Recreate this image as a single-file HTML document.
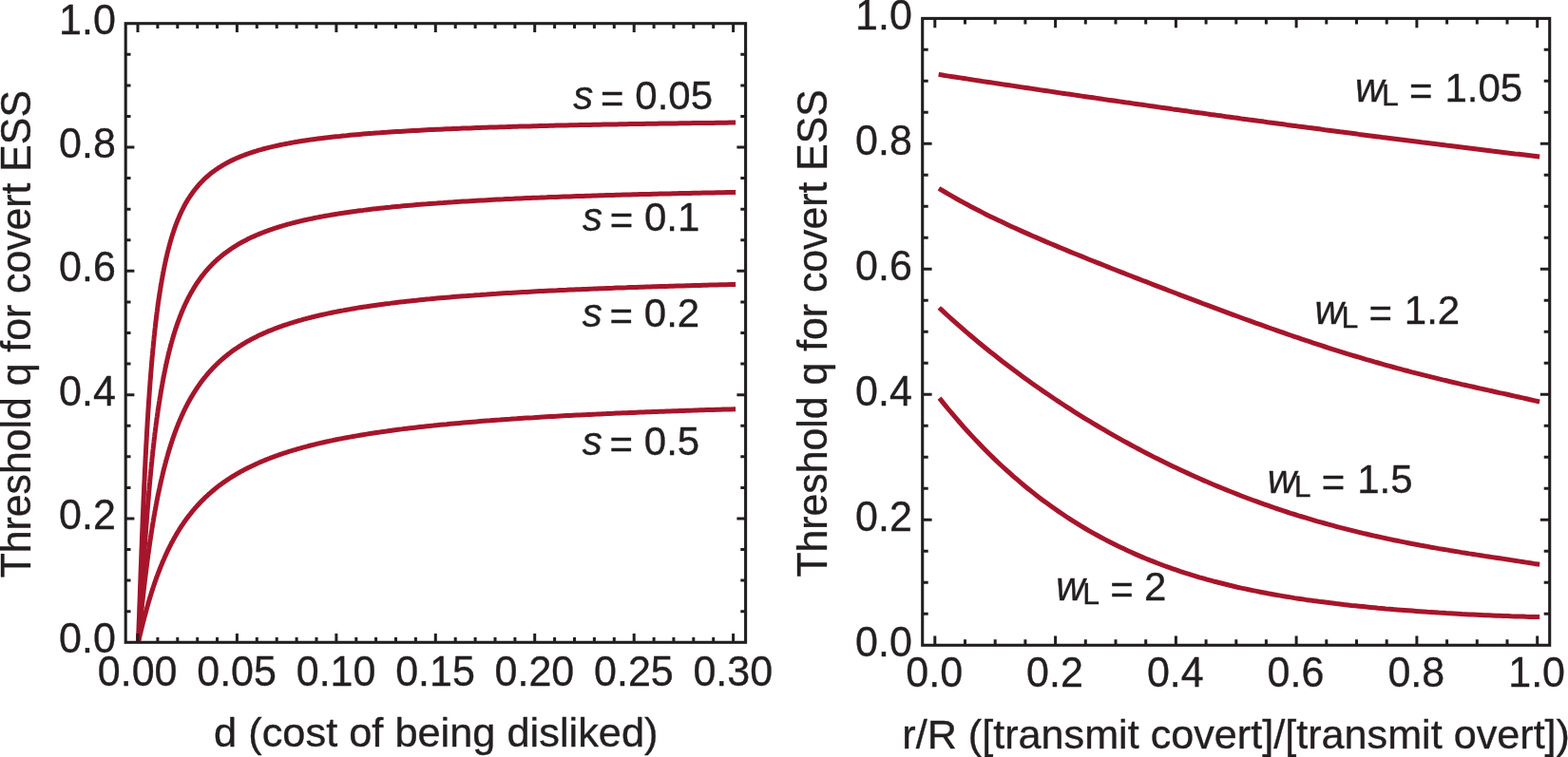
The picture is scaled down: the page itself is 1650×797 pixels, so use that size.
<!DOCTYPE html>
<html><head><meta charset="utf-8"><title>Threshold q for covert ESS</title>
<style>
html,body{margin:0;padding:0;background:#fff;}
body{width:1650px;height:797px;overflow:hidden;}
svg{display:block;}
text{font-family:"Liberation Sans",sans-serif;fill:#231f20;stroke:#231f20;stroke-width:0.35px;}
.i{font-style:italic;}
</style></head><body>
<svg width="1650" height="797" viewBox="0 0 1650 797">
<rect width="1650" height="797" fill="#fff"/>
<clipPath id="cl"><rect x="132.2" y="24.7" width="652.4" height="651.6"/></clipPath>
<g clip-path="url(#cl)" fill="none" stroke="#a6152b" stroke-width="5.0" stroke-linejoin="round" stroke-linecap="square">
<path d="M145.4 676.3 L145.8 667.7 L146.1 658.5 L146.5 649.0 L146.8 639.3 L147.2 629.5 L147.5 619.6 L147.9 609.7 L148.2 600.0 L148.6 590.3 L148.9 580.8 L149.3 571.5 L149.6 562.3 L150.0 553.4 L150.3 544.6 L150.7 536.1 L151.0 527.7 L151.4 519.6 L151.7 511.8 L152.1 504.1 L152.4 496.6 L152.8 489.4 L153.1 482.3 L153.5 475.5 L153.8 468.8 L154.2 462.4 L154.5 456.1 L154.9 450.0 L155.2 444.1 L155.6 438.3 L155.9 432.7 L156.3 427.3 L156.6 422.0 L157.0 416.9 L157.3 411.9 L157.7 407.0 L158.0 402.3 L158.4 397.7 L158.7 393.3 L159.1 388.9 L159.4 384.7 L159.8 380.6 L160.1 376.6 L160.5 372.7 L160.8 368.9 L161.2 365.2 L161.5 361.5 L161.9 358.0 L162.2 354.6 L162.6 351.3 L162.9 348.0 L163.3 344.8 L163.6 341.7 L164.0 338.7 L164.3 335.7 L164.7 332.9 L165.0 330.0 L165.4 327.3 L165.7 324.6 L166.1 322.0 L166.4 319.4 L166.8 316.9 L167.2 314.5 L167.5 312.1 L167.9 309.7 L168.2 307.4 L168.6 305.2 L168.9 303.0 L169.3 300.8 L169.6 298.7 L170.0 296.7 L170.3 294.7 L170.7 292.7 L171.0 290.8 L171.4 288.9 L171.7 287.0 L172.1 285.2 L172.4 283.4 L172.8 281.7 L173.1 279.9 L173.5 278.3 L173.8 276.6 L174.2 275.0 L174.5 273.4 L174.9 271.9 L175.2 270.3 L175.6 268.8 L175.9 267.4 L176.3 265.9 L176.6 264.5 L177.0 263.1 L177.3 261.7 L177.7 260.4 L178.0 259.1 L178.4 257.8 L178.7 256.5 L179.1 255.2 L179.4 254.0 L179.8 252.8 L180.1 251.6 L180.5 250.4 L180.8 249.3 L181.2 248.2 L181.5 247.0 L181.9 246.0 L182.2 244.9 L182.6 243.8 L182.9 242.8 L183.3 241.7 L183.6 240.7 L184.0 239.7 L184.3 238.8 L184.7 237.8 L185.0 236.8 L185.4 235.9 L185.7 235.0 L186.1 234.1 L186.4 233.2 L186.8 232.3 L187.1 231.4 L188.2 228.9 L189.2 226.5 L190.3 224.2 L191.3 222.0 L192.4 219.8 L193.4 217.8 L194.5 215.8 L195.5 213.9 L196.6 212.1 L197.6 210.3 L198.7 208.7 L199.8 207.0 L200.8 205.4 L201.9 203.9 L202.9 202.5 L204.0 201.0 L205.0 199.7 L206.1 198.3 L207.1 197.1 L208.2 195.8 L209.2 194.6 L210.3 193.5 L211.3 192.3 L212.4 191.2 L213.4 190.2 L214.5 189.1 L215.5 188.1 L216.6 187.1 L217.6 186.2 L218.7 185.3 L219.7 184.4 L220.8 183.5 L221.8 182.6 L222.9 181.8 L223.9 181.0 L225.0 180.2 L226.0 179.5 L227.1 178.7 L228.1 178.0 L229.2 177.3 L230.2 176.6 L231.3 175.9 L232.3 175.3 L233.4 174.6 L234.4 174.0 L235.5 173.4 L236.5 172.8 L237.6 172.2 L238.6 171.6 L239.7 171.0 L240.7 170.5 L241.8 170.0 L242.8 169.4 L243.9 168.9 L244.9 168.4 L246.0 167.9 L247.0 167.4 L248.1 167.0 L249.1 166.5 L250.2 166.0 L251.2 165.6 L252.3 165.2 L253.3 164.7 L254.4 164.3 L255.4 163.9 L256.5 163.5 L257.5 163.1 L258.6 162.7 L259.6 162.3 L260.7 161.9 L261.7 161.6 L262.8 161.2 L263.8 160.9 L264.9 160.5 L265.9 160.2 L267.0 159.8 L268.0 159.5 L269.1 159.2 L270.1 158.9 L271.2 158.5 L272.2 158.2 L273.3 157.9 L274.3 157.6 L275.4 157.3 L276.4 157.0 L277.5 156.8 L278.5 156.5 L279.6 156.2 L280.6 155.9 L281.7 155.7 L282.7 155.4 L283.8 155.1 L284.8 154.9 L285.9 154.6 L286.9 154.4 L288.0 154.1 L289.0 153.9 L290.1 153.7 L291.1 153.4 L292.2 153.2 L293.2 153.0 L294.3 152.7 L295.3 152.5 L296.4 152.3 L297.4 152.1 L298.5 151.9 L299.5 151.7 L300.6 151.5 L301.6 151.3 L302.7 151.1 L303.7 150.9 L304.8 150.7 L305.8 150.5 L306.9 150.3 L307.9 150.1 L309.0 149.9 L310.0 149.7 L311.1 149.5 L312.1 149.4 L313.2 149.2 L314.2 149.0 L315.3 148.8 L316.3 148.7 L317.4 148.5 L318.4 148.3 L319.5 148.2 L320.5 148.0 L321.6 147.9 L322.6 147.7 L323.7 147.5 L324.7 147.4 L325.8 147.2 L326.8 147.1 L327.9 146.9 L328.9 146.8 L330.0 146.7 L331.0 146.5 L332.1 146.4 L333.1 146.2 L334.2 146.1 L335.2 146.0 L336.3 145.8 L337.3 145.7 L338.4 145.6 L339.4 145.4 L340.5 145.3 L341.5 145.2 L342.6 145.0 L343.6 144.9 L344.7 144.8 L345.7 144.7 L346.8 144.5 L347.8 144.4 L348.9 144.3 L349.9 144.2 L351.0 144.1 L352.0 144.0 L353.1 143.8 L354.1 143.7 L357.6 143.4 L361.2 143.0 L364.7 142.7 L368.2 142.3 L371.7 142.0 L375.2 141.7 L378.7 141.4 L382.2 141.1 L385.7 140.8 L389.2 140.5 L392.7 140.3 L396.2 140.0 L399.7 139.8 L403.3 139.5 L406.8 139.3 L410.3 139.0 L413.8 138.8 L417.3 138.6 L420.8 138.4 L424.3 138.2 L427.8 138.0 L431.3 137.8 L434.8 137.6 L438.3 137.4 L441.8 137.2 L445.3 137.0 L448.9 136.8 L452.4 136.6 L455.9 136.5 L459.4 136.3 L462.9 136.2 L466.4 136.0 L469.9 135.8 L473.4 135.7 L476.9 135.5 L480.4 135.4 L483.9 135.3 L487.4 135.1 L491.0 135.0 L494.5 134.9 L498.0 134.7 L501.5 134.6 L505.0 134.5 L508.5 134.3 L512.0 134.2 L515.5 134.1 L519.0 134.0 L522.5 133.9 L526.0 133.8 L529.5 133.7 L533.1 133.6 L536.6 133.4 L540.1 133.3 L543.6 133.2 L547.1 133.1 L550.6 133.0 L554.1 132.9 L557.6 132.9 L561.1 132.8 L564.6 132.7 L568.1 132.6 L571.6 132.5 L575.2 132.4 L578.7 132.3 L582.2 132.2 L585.7 132.1 L589.2 132.1 L592.7 132.0 L596.2 131.9 L599.7 131.8 L603.2 131.8 L606.7 131.7 L610.2 131.6 L613.7 131.5 L617.3 131.5 L620.8 131.4 L624.3 131.3 L627.8 131.3 L631.3 131.2 L634.8 131.1 L638.3 131.1 L641.8 131.0 L645.3 130.9 L648.8 130.9 L652.3 130.8 L655.8 130.7 L659.3 130.7 L662.9 130.6 L666.4 130.6 L669.9 130.5 L673.4 130.4 L676.9 130.4 L680.4 130.3 L683.9 130.3 L687.4 130.2 L690.9 130.2 L694.4 130.1 L697.9 130.1 L701.4 130.0 L705.0 130.0 L708.5 129.9 L712.0 129.9 L715.5 129.8 L719.0 129.8 L722.5 129.7 L726.0 129.7 L729.5 129.6 L733.0 129.6 L736.5 129.5 L740.0 129.5 L743.5 129.4 L747.1 129.4 L750.6 129.4 L754.1 129.3 L757.6 129.3 L761.1 129.2 L764.6 129.2 L768.1 129.1 L771.6 129.1"/>
<path d="M145.4 676.3 L145.8 672.5 L146.1 668.3 L146.5 663.7 L146.8 658.9 L147.2 653.9 L147.5 648.8 L147.9 643.5 L148.2 638.1 L148.6 632.7 L148.9 627.2 L149.3 621.7 L149.6 616.2 L150.0 610.8 L150.3 605.4 L150.7 600.0 L151.0 594.6 L151.4 589.4 L151.7 584.1 L152.1 579.0 L152.4 573.9 L152.8 568.9 L153.1 564.0 L153.5 559.2 L153.8 554.4 L154.2 549.7 L154.5 545.1 L154.9 540.6 L155.2 536.2 L155.6 531.8 L155.9 527.5 L156.3 523.3 L156.6 519.2 L157.0 515.2 L157.3 511.2 L157.7 507.3 L158.0 503.5 L158.4 499.8 L158.7 496.1 L159.1 492.5 L159.4 489.0 L159.8 485.5 L160.1 482.1 L160.5 478.8 L160.8 475.5 L161.2 472.3 L161.5 469.2 L161.9 466.1 L162.2 463.1 L162.6 460.1 L162.9 457.2 L163.3 454.3 L163.6 451.5 L164.0 448.8 L164.3 446.1 L164.7 443.4 L165.0 440.8 L165.4 438.3 L165.7 435.8 L166.1 433.3 L166.4 430.9 L166.8 428.5 L167.2 426.2 L167.5 423.9 L167.9 421.6 L168.2 419.4 L168.6 417.2 L168.9 415.1 L169.3 413.0 L169.6 410.9 L170.0 408.9 L170.3 406.9 L170.7 404.9 L171.0 403.0 L171.4 401.0 L171.7 399.2 L172.1 397.3 L172.4 395.5 L172.8 393.7 L173.1 392.0 L173.5 390.3 L173.8 388.6 L174.2 386.9 L174.5 385.2 L174.9 383.6 L175.2 382.0 L175.6 380.5 L175.9 378.9 L176.3 377.4 L176.6 375.9 L177.0 374.4 L177.3 372.9 L177.7 371.5 L178.0 370.1 L178.4 368.7 L178.7 367.3 L179.1 366.0 L179.4 364.6 L179.8 363.3 L180.1 362.0 L180.5 360.7 L180.8 359.5 L181.2 358.2 L181.5 357.0 L181.9 355.8 L182.2 354.6 L182.6 353.4 L182.9 352.3 L183.3 351.1 L183.6 350.0 L184.0 348.9 L184.3 347.8 L184.7 346.7 L185.0 345.6 L185.4 344.6 L185.7 343.5 L186.1 342.5 L186.4 341.5 L186.8 340.5 L187.1 339.5 L188.2 336.6 L189.2 333.8 L190.3 331.1 L191.3 328.5 L192.4 326.0 L193.4 323.6 L194.5 321.2 L195.5 319.0 L196.6 316.8 L197.6 314.7 L198.7 312.6 L199.8 310.6 L200.8 308.7 L201.9 306.9 L202.9 305.1 L204.0 303.3 L205.0 301.6 L206.1 299.9 L207.1 298.3 L208.2 296.8 L209.2 295.3 L210.3 293.8 L211.3 292.3 L212.4 290.9 L213.4 289.6 L214.5 288.3 L215.5 287.0 L216.6 285.7 L217.6 284.5 L218.7 283.3 L219.7 282.1 L220.8 281.0 L221.8 279.9 L222.9 278.8 L223.9 277.7 L225.0 276.7 L226.0 275.7 L227.1 274.7 L228.1 273.7 L229.2 272.8 L230.2 271.9 L231.3 271.0 L232.3 270.1 L233.4 269.2 L234.4 268.4 L235.5 267.6 L236.5 266.7 L237.6 265.9 L238.6 265.2 L239.7 264.4 L240.7 263.7 L241.8 262.9 L242.8 262.2 L243.9 261.5 L244.9 260.8 L246.0 260.1 L247.0 259.5 L248.1 258.8 L249.1 258.2 L250.2 257.5 L251.2 256.9 L252.3 256.3 L253.3 255.7 L254.4 255.1 L255.4 254.6 L256.5 254.0 L257.5 253.5 L258.6 252.9 L259.6 252.4 L260.7 251.8 L261.7 251.3 L262.8 250.8 L263.8 250.3 L264.9 249.8 L265.9 249.3 L267.0 248.9 L268.0 248.4 L269.1 247.9 L270.1 247.5 L271.2 247.0 L272.2 246.6 L273.3 246.2 L274.3 245.7 L275.4 245.3 L276.4 244.9 L277.5 244.5 L278.5 244.1 L279.6 243.7 L280.6 243.3 L281.7 242.9 L282.7 242.5 L283.8 242.2 L284.8 241.8 L285.9 241.4 L286.9 241.1 L288.0 240.7 L289.0 240.4 L290.1 240.0 L291.1 239.7 L292.2 239.3 L293.2 239.0 L294.3 238.7 L295.3 238.4 L296.4 238.1 L297.4 237.7 L298.5 237.4 L299.5 237.1 L300.6 236.8 L301.6 236.5 L302.7 236.2 L303.7 235.9 L304.8 235.7 L305.8 235.4 L306.9 235.1 L307.9 234.8 L309.0 234.6 L310.0 234.3 L311.1 234.0 L312.1 233.8 L313.2 233.5 L314.2 233.2 L315.3 233.0 L316.3 232.7 L317.4 232.5 L318.4 232.2 L319.5 232.0 L320.5 231.8 L321.6 231.5 L322.6 231.3 L323.7 231.1 L324.7 230.8 L325.8 230.6 L326.8 230.4 L327.9 230.2 L328.9 230.0 L330.0 229.7 L331.0 229.5 L332.1 229.3 L333.1 229.1 L334.2 228.9 L335.2 228.7 L336.3 228.5 L337.3 228.3 L338.4 228.1 L339.4 227.9 L340.5 227.7 L341.5 227.5 L342.6 227.3 L343.6 227.1 L344.7 226.9 L345.7 226.8 L346.8 226.6 L347.8 226.4 L348.9 226.2 L349.9 226.0 L351.0 225.9 L352.0 225.7 L353.1 225.5 L354.1 225.4 L357.6 224.8 L361.2 224.3 L364.7 223.7 L368.2 223.2 L371.7 222.7 L375.2 222.3 L378.7 221.8 L382.2 221.4 L385.7 220.9 L389.2 220.5 L392.7 220.1 L396.2 219.7 L399.7 219.3 L403.3 218.9 L406.8 218.5 L410.3 218.2 L413.8 217.8 L417.3 217.5 L420.8 217.2 L424.3 216.8 L427.8 216.5 L431.3 216.2 L434.8 215.9 L438.3 215.6 L441.8 215.3 L445.3 215.0 L448.9 214.8 L452.4 214.5 L455.9 214.2 L459.4 214.0 L462.9 213.7 L466.4 213.5 L469.9 213.2 L473.4 213.0 L476.9 212.8 L480.4 212.5 L483.9 212.3 L487.4 212.1 L491.0 211.9 L494.5 211.7 L498.0 211.5 L501.5 211.3 L505.0 211.1 L508.5 210.9 L512.0 210.7 L515.5 210.5 L519.0 210.3 L522.5 210.1 L526.0 209.9 L529.5 209.8 L533.1 209.6 L536.6 209.4 L540.1 209.3 L543.6 209.1 L547.1 209.0 L550.6 208.8 L554.1 208.6 L557.6 208.5 L561.1 208.3 L564.6 208.2 L568.1 208.1 L571.6 207.9 L575.2 207.8 L578.7 207.6 L582.2 207.5 L585.7 207.4 L589.2 207.2 L592.7 207.1 L596.2 207.0 L599.7 206.9 L603.2 206.7 L606.7 206.6 L610.2 206.5 L613.7 206.4 L617.3 206.3 L620.8 206.2 L624.3 206.0 L627.8 205.9 L631.3 205.8 L634.8 205.7 L638.3 205.6 L641.8 205.5 L645.3 205.4 L648.8 205.3 L652.3 205.2 L655.8 205.1 L659.3 205.0 L662.9 204.9 L666.4 204.8 L669.9 204.7 L673.4 204.6 L676.9 204.5 L680.4 204.5 L683.9 204.4 L687.4 204.3 L690.9 204.2 L694.4 204.1 L697.9 204.0 L701.4 203.9 L705.0 203.9 L708.5 203.8 L712.0 203.7 L715.5 203.6 L719.0 203.5 L722.5 203.5 L726.0 203.4 L729.5 203.3 L733.0 203.2 L736.5 203.2 L740.0 203.1 L743.5 203.0 L747.1 202.9 L750.6 202.9 L754.1 202.8 L757.6 202.7 L761.1 202.7 L764.6 202.6 L768.1 202.5 L771.6 202.5"/>
<path d="M145.4 676.3 L145.8 672.8 L146.1 669.3 L146.5 665.9 L146.8 662.4 L147.2 659.0 L147.5 655.6 L147.9 652.2 L148.2 648.9 L148.6 645.6 L148.9 642.3 L149.3 639.0 L149.6 635.8 L150.0 632.6 L150.3 629.5 L150.7 626.4 L151.0 623.3 L151.4 620.2 L151.7 617.2 L152.1 614.3 L152.4 611.3 L152.8 608.4 L153.1 605.6 L153.5 602.7 L153.8 599.9 L154.2 597.2 L154.5 594.5 L154.9 591.8 L155.2 589.1 L155.6 586.5 L155.9 583.9 L156.3 581.4 L156.6 578.9 L157.0 576.4 L157.3 574.0 L157.7 571.5 L158.0 569.2 L158.4 566.8 L158.7 564.5 L159.1 562.2 L159.4 559.9 L159.8 557.7 L160.1 555.5 L160.5 553.3 L160.8 551.2 L161.2 549.1 L161.5 547.0 L161.9 545.0 L162.2 542.9 L162.6 540.9 L162.9 538.9 L163.3 537.0 L163.6 535.1 L164.0 533.2 L164.3 531.3 L164.7 529.4 L165.0 527.6 L165.4 525.8 L165.7 524.0 L166.1 522.3 L166.4 520.5 L166.8 518.8 L167.2 517.1 L167.5 515.5 L167.9 513.8 L168.2 512.2 L168.6 510.6 L168.9 509.0 L169.3 507.4 L169.6 505.9 L170.0 504.3 L170.3 502.8 L170.7 501.3 L171.0 499.9 L171.4 498.4 L171.7 497.0 L172.1 495.5 L172.4 494.1 L172.8 492.8 L173.1 491.4 L173.5 490.0 L173.8 488.7 L174.2 487.4 L174.5 486.1 L174.9 484.8 L175.2 483.5 L175.6 482.2 L175.9 481.0 L176.3 479.7 L176.6 478.5 L177.0 477.3 L177.3 476.1 L177.7 474.9 L178.0 473.8 L178.4 472.6 L178.7 471.5 L179.1 470.4 L179.4 469.2 L179.8 468.1 L180.1 467.0 L180.5 466.0 L180.8 464.9 L181.2 463.8 L181.5 462.8 L181.9 461.8 L182.2 460.7 L182.6 459.7 L182.9 458.7 L183.3 457.7 L183.6 456.8 L184.0 455.8 L184.3 454.8 L184.7 453.9 L185.0 452.9 L185.4 452.0 L185.7 451.1 L186.1 450.2 L186.4 449.3 L186.8 448.4 L187.1 447.5 L188.2 444.9 L189.2 442.4 L190.3 440.0 L191.3 437.6 L192.4 435.3 L193.4 433.0 L194.5 430.8 L195.5 428.7 L196.6 426.7 L197.6 424.7 L198.7 422.7 L199.8 420.8 L200.8 418.9 L201.9 417.1 L202.9 415.4 L204.0 413.7 L205.0 412.0 L206.1 410.3 L207.1 408.7 L208.2 407.2 L209.2 405.7 L210.3 404.2 L211.3 402.7 L212.4 401.3 L213.4 399.9 L214.5 398.6 L215.5 397.3 L216.6 396.0 L217.6 394.7 L218.7 393.5 L219.7 392.2 L220.8 391.1 L221.8 389.9 L222.9 388.8 L223.9 387.6 L225.0 386.6 L226.0 385.5 L227.1 384.4 L228.1 383.4 L229.2 382.4 L230.2 381.4 L231.3 380.4 L232.3 379.5 L233.4 378.6 L234.4 377.7 L235.5 376.8 L236.5 375.9 L237.6 375.0 L238.6 374.2 L239.7 373.3 L240.7 372.5 L241.8 371.7 L242.8 370.9 L243.9 370.1 L244.9 369.4 L246.0 368.6 L247.0 367.9 L248.1 367.2 L249.1 366.5 L250.2 365.8 L251.2 365.1 L252.3 364.4 L253.3 363.7 L254.4 363.1 L255.4 362.4 L256.5 361.8 L257.5 361.2 L258.6 360.5 L259.6 359.9 L260.7 359.3 L261.7 358.8 L262.8 358.2 L263.8 357.6 L264.9 357.0 L265.9 356.5 L267.0 355.9 L268.0 355.4 L269.1 354.9 L270.1 354.4 L271.2 353.8 L272.2 353.3 L273.3 352.8 L274.3 352.3 L275.4 351.9 L276.4 351.4 L277.5 350.9 L278.5 350.4 L279.6 350.0 L280.6 349.5 L281.7 349.1 L282.7 348.6 L283.8 348.2 L284.8 347.8 L285.9 347.4 L286.9 346.9 L288.0 346.5 L289.0 346.1 L290.1 345.7 L291.1 345.3 L292.2 344.9 L293.2 344.5 L294.3 344.2 L295.3 343.8 L296.4 343.4 L297.4 343.0 L298.5 342.7 L299.5 342.3 L300.6 342.0 L301.6 341.6 L302.7 341.3 L303.7 340.9 L304.8 340.6 L305.8 340.2 L306.9 339.9 L307.9 339.6 L309.0 339.3 L310.0 338.9 L311.1 338.6 L312.1 338.3 L313.2 338.0 L314.2 337.7 L315.3 337.4 L316.3 337.1 L317.4 336.8 L318.4 336.5 L319.5 336.2 L320.5 335.9 L321.6 335.7 L322.6 335.4 L323.7 335.1 L324.7 334.8 L325.8 334.6 L326.8 334.3 L327.9 334.0 L328.9 333.8 L330.0 333.5 L331.0 333.2 L332.1 333.0 L333.1 332.7 L334.2 332.5 L335.2 332.2 L336.3 332.0 L337.3 331.8 L338.4 331.5 L339.4 331.3 L340.5 331.1 L341.5 330.8 L342.6 330.6 L343.6 330.4 L344.7 330.1 L345.7 329.9 L346.8 329.7 L347.8 329.5 L348.9 329.3 L349.9 329.0 L351.0 328.8 L352.0 328.6 L353.1 328.4 L354.1 328.2 L357.6 327.5 L361.2 326.9 L364.7 326.2 L368.2 325.6 L371.7 325.0 L375.2 324.4 L378.7 323.8 L382.2 323.3 L385.7 322.8 L389.2 322.2 L392.7 321.7 L396.2 321.2 L399.7 320.7 L403.3 320.3 L406.8 319.8 L410.3 319.4 L413.8 318.9 L417.3 318.5 L420.8 318.1 L424.3 317.7 L427.8 317.3 L431.3 316.9 L434.8 316.5 L438.3 316.2 L441.8 315.8 L445.3 315.4 L448.9 315.1 L452.4 314.8 L455.9 314.4 L459.4 314.1 L462.9 313.8 L466.4 313.5 L469.9 313.2 L473.4 312.9 L476.9 312.6 L480.4 312.3 L483.9 312.0 L487.4 311.7 L491.0 311.5 L494.5 311.2 L498.0 311.0 L501.5 310.7 L505.0 310.5 L508.5 310.2 L512.0 310.0 L515.5 309.7 L519.0 309.5 L522.5 309.3 L526.0 309.0 L529.5 308.8 L533.1 308.6 L536.6 308.4 L540.1 308.2 L543.6 308.0 L547.1 307.8 L550.6 307.6 L554.1 307.4 L557.6 307.2 L561.1 307.0 L564.6 306.8 L568.1 306.6 L571.6 306.5 L575.2 306.3 L578.7 306.1 L582.2 305.9 L585.7 305.8 L589.2 305.6 L592.7 305.4 L596.2 305.3 L599.7 305.1 L603.2 305.0 L606.7 304.8 L610.2 304.7 L613.7 304.5 L617.3 304.4 L620.8 304.2 L624.3 304.1 L627.8 303.9 L631.3 303.8 L634.8 303.7 L638.3 303.5 L641.8 303.4 L645.3 303.3 L648.8 303.1 L652.3 303.0 L655.8 302.9 L659.3 302.8 L662.9 302.6 L666.4 302.5 L669.9 302.4 L673.4 302.3 L676.9 302.2 L680.4 302.0 L683.9 301.9 L687.4 301.8 L690.9 301.7 L694.4 301.6 L697.9 301.5 L701.4 301.4 L705.0 301.3 L708.5 301.2 L712.0 301.1 L715.5 301.0 L719.0 300.9 L722.5 300.8 L726.0 300.7 L729.5 300.6 L733.0 300.5 L736.5 300.4 L740.0 300.3 L743.5 300.2 L747.1 300.1 L750.6 300.0 L754.1 299.9 L757.6 299.8 L761.1 299.7 L764.6 299.7 L768.1 299.6 L771.6 299.5"/>
<path d="M145.4 676.3 L145.8 674.8 L146.1 673.4 L146.5 671.9 L146.8 670.4 L147.2 669.0 L147.5 667.5 L147.9 666.1 L148.2 664.7 L148.6 663.2 L148.9 661.8 L149.3 660.4 L149.6 659.0 L150.0 657.6 L150.3 656.3 L150.7 654.9 L151.0 653.5 L151.4 652.2 L151.7 650.8 L152.1 649.5 L152.4 648.2 L152.8 646.9 L153.1 645.6 L153.5 644.3 L153.8 643.0 L154.2 641.7 L154.5 640.5 L154.9 639.2 L155.2 638.0 L155.6 636.8 L155.9 635.6 L156.3 634.3 L156.6 633.2 L157.0 632.0 L157.3 630.8 L157.7 629.6 L158.0 628.5 L158.4 627.3 L158.7 626.2 L159.1 625.1 L159.4 623.9 L159.8 622.8 L160.1 621.7 L160.5 620.6 L160.8 619.6 L161.2 618.5 L161.5 617.4 L161.9 616.4 L162.2 615.3 L162.6 614.3 L162.9 613.3 L163.3 612.3 L163.6 611.3 L164.0 610.3 L164.3 609.3 L164.7 608.3 L165.0 607.3 L165.4 606.4 L165.7 605.4 L166.1 604.5 L166.4 603.5 L166.8 602.6 L167.2 601.7 L167.5 600.8 L167.9 599.8 L168.2 599.0 L168.6 598.1 L168.9 597.2 L169.3 596.3 L169.6 595.4 L170.0 594.6 L170.3 593.7 L170.7 592.9 L171.0 592.0 L171.4 591.2 L171.7 590.4 L172.1 589.6 L172.4 588.8 L172.8 588.0 L173.1 587.2 L173.5 586.4 L173.8 585.6 L174.2 584.8 L174.5 584.0 L174.9 583.3 L175.2 582.5 L175.6 581.8 L175.9 581.0 L176.3 580.3 L176.6 579.5 L177.0 578.8 L177.3 578.1 L177.7 577.4 L178.0 576.7 L178.4 576.0 L178.7 575.3 L179.1 574.6 L179.4 573.9 L179.8 573.2 L180.1 572.5 L180.5 571.8 L180.8 571.2 L181.2 570.5 L181.5 569.9 L181.9 569.2 L182.2 568.6 L182.6 567.9 L182.9 567.3 L183.3 566.7 L183.6 566.0 L184.0 565.4 L184.3 564.8 L184.7 564.2 L185.0 563.6 L185.4 563.0 L185.7 562.4 L186.1 561.8 L186.4 561.2 L186.8 560.6 L187.1 560.0 L188.2 558.3 L189.2 556.6 L190.3 555.0 L191.3 553.4 L192.4 551.8 L193.4 550.3 L194.5 548.8 L195.5 547.3 L196.6 545.9 L197.6 544.5 L198.7 543.1 L199.8 541.7 L200.8 540.4 L201.9 539.1 L202.9 537.8 L204.0 536.6 L205.0 535.3 L206.1 534.1 L207.1 533.0 L208.2 531.8 L209.2 530.7 L210.3 529.5 L211.3 528.4 L212.4 527.4 L213.4 526.3 L214.5 525.3 L215.5 524.2 L216.6 523.2 L217.6 522.3 L218.7 521.3 L219.7 520.3 L220.8 519.4 L221.8 518.5 L222.9 517.6 L223.9 516.7 L225.0 515.8 L226.0 514.9 L227.1 514.1 L228.1 513.3 L229.2 512.4 L230.2 511.6 L231.3 510.8 L232.3 510.1 L233.4 509.3 L234.4 508.5 L235.5 507.8 L236.5 507.0 L237.6 506.3 L238.6 505.6 L239.7 504.9 L240.7 504.2 L241.8 503.5 L242.8 502.8 L243.9 502.2 L244.9 501.5 L246.0 500.9 L247.0 500.2 L248.1 499.6 L249.1 499.0 L250.2 498.4 L251.2 497.8 L252.3 497.2 L253.3 496.6 L254.4 496.0 L255.4 495.5 L256.5 494.9 L257.5 494.3 L258.6 493.8 L259.6 493.3 L260.7 492.7 L261.7 492.2 L262.8 491.7 L263.8 491.2 L264.9 490.7 L265.9 490.2 L267.0 489.7 L268.0 489.2 L269.1 488.7 L270.1 488.2 L271.2 487.7 L272.2 487.3 L273.3 486.8 L274.3 486.4 L275.4 485.9 L276.4 485.5 L277.5 485.0 L278.5 484.6 L279.6 484.2 L280.6 483.7 L281.7 483.3 L282.7 482.9 L283.8 482.5 L284.8 482.1 L285.9 481.7 L286.9 481.3 L288.0 480.9 L289.0 480.5 L290.1 480.2 L291.1 479.8 L292.2 479.4 L293.2 479.0 L294.3 478.7 L295.3 478.3 L296.4 477.9 L297.4 477.6 L298.5 477.2 L299.5 476.9 L300.6 476.6 L301.6 476.2 L302.7 475.9 L303.7 475.5 L304.8 475.2 L305.8 474.9 L306.9 474.6 L307.9 474.2 L309.0 473.9 L310.0 473.6 L311.1 473.3 L312.1 473.0 L313.2 472.7 L314.2 472.4 L315.3 472.1 L316.3 471.8 L317.4 471.5 L318.4 471.2 L319.5 470.9 L320.5 470.6 L321.6 470.4 L322.6 470.1 L323.7 469.8 L324.7 469.5 L325.8 469.3 L326.8 469.0 L327.9 468.7 L328.9 468.5 L330.0 468.2 L331.0 468.0 L332.1 467.7 L333.1 467.4 L334.2 467.2 L335.2 466.9 L336.3 466.7 L337.3 466.4 L338.4 466.2 L339.4 466.0 L340.5 465.7 L341.5 465.5 L342.6 465.3 L343.6 465.0 L344.7 464.8 L345.7 464.6 L346.8 464.3 L347.8 464.1 L348.9 463.9 L349.9 463.7 L351.0 463.4 L352.0 463.2 L353.1 463.0 L354.1 462.8 L357.6 462.1 L361.2 461.4 L364.7 460.7 L368.2 460.1 L371.7 459.5 L375.2 458.9 L378.7 458.3 L382.2 457.7 L385.7 457.1 L389.2 456.5 L392.7 456.0 L396.2 455.5 L399.7 455.0 L403.3 454.4 L406.8 454.0 L410.3 453.5 L413.8 453.0 L417.3 452.5 L420.8 452.1 L424.3 451.6 L427.8 451.2 L431.3 450.8 L434.8 450.4 L438.3 450.0 L441.8 449.6 L445.3 449.2 L448.9 448.8 L452.4 448.4 L455.9 448.1 L459.4 447.7 L462.9 447.3 L466.4 447.0 L469.9 446.7 L473.4 446.3 L476.9 446.0 L480.4 445.7 L483.9 445.4 L487.4 445.1 L491.0 444.8 L494.5 444.5 L498.0 444.2 L501.5 443.9 L505.0 443.6 L508.5 443.3 L512.0 443.0 L515.5 442.8 L519.0 442.5 L522.5 442.2 L526.0 442.0 L529.5 441.7 L533.1 441.5 L536.6 441.3 L540.1 441.0 L543.6 440.8 L547.1 440.5 L550.6 440.3 L554.1 440.1 L557.6 439.9 L561.1 439.7 L564.6 439.4 L568.1 439.2 L571.6 439.0 L575.2 438.8 L578.7 438.6 L582.2 438.4 L585.7 438.2 L589.2 438.0 L592.7 437.8 L596.2 437.6 L599.7 437.5 L603.2 437.3 L606.7 437.1 L610.2 436.9 L613.7 436.7 L617.3 436.6 L620.8 436.4 L624.3 436.2 L627.8 436.1 L631.3 435.9 L634.8 435.7 L638.3 435.6 L641.8 435.4 L645.3 435.3 L648.8 435.1 L652.3 435.0 L655.8 434.8 L659.3 434.7 L662.9 434.5 L666.4 434.4 L669.9 434.2 L673.4 434.1 L676.9 434.0 L680.4 433.8 L683.9 433.7 L687.4 433.5 L690.9 433.4 L694.4 433.3 L697.9 433.2 L701.4 433.0 L705.0 432.9 L708.5 432.8 L712.0 432.7 L715.5 432.5 L719.0 432.4 L722.5 432.3 L726.0 432.2 L729.5 432.1 L733.0 431.9 L736.5 431.8 L740.0 431.7 L743.5 431.6 L747.1 431.5 L750.6 431.4 L754.1 431.3 L757.6 431.2 L761.1 431.1 L764.6 431.0 L768.1 430.9 L771.6 430.8"/>
</g>
<g stroke="#231f20" stroke-width="3.0" fill="none">
<path d="M145.0 676.3 v-9.2M145.0 24.7 v9.2M165.9 676.3 v-5.3M165.9 24.7 v5.3M186.8 676.3 v-5.3M186.8 24.7 v5.3M207.7 676.3 v-5.3M207.7 24.7 v5.3M228.5 676.3 v-5.3M228.5 24.7 v5.3M249.4 676.3 v-9.2M249.4 24.7 v9.2M270.3 676.3 v-5.3M270.3 24.7 v5.3M291.2 676.3 v-5.3M291.2 24.7 v5.3M312.1 676.3 v-5.3M312.1 24.7 v5.3M333.0 676.3 v-5.3M333.0 24.7 v5.3M353.9 676.3 v-9.2M353.9 24.7 v9.2M374.8 676.3 v-5.3M374.8 24.7 v5.3M395.6 676.3 v-5.3M395.6 24.7 v5.3M416.5 676.3 v-5.3M416.5 24.7 v5.3M437.4 676.3 v-5.3M437.4 24.7 v5.3M458.3 676.3 v-9.2M458.3 24.7 v9.2M479.2 676.3 v-5.3M479.2 24.7 v5.3M500.1 676.3 v-5.3M500.1 24.7 v5.3M521.0 676.3 v-5.3M521.0 24.7 v5.3M541.9 676.3 v-5.3M541.9 24.7 v5.3M562.7 676.3 v-9.2M562.7 24.7 v9.2M583.6 676.3 v-5.3M583.6 24.7 v5.3M604.5 676.3 v-5.3M604.5 24.7 v5.3M625.4 676.3 v-5.3M625.4 24.7 v5.3M646.3 676.3 v-5.3M646.3 24.7 v5.3M667.2 676.3 v-9.2M667.2 24.7 v9.2M688.1 676.3 v-5.3M688.1 24.7 v5.3M708.9 676.3 v-5.3M708.9 24.7 v5.3M729.8 676.3 v-5.3M729.8 24.7 v5.3M750.7 676.3 v-5.3M750.7 24.7 v5.3M771.6 676.3 v-9.2M771.6 24.7 v9.2M132.2 643.7 h5.3M784.6 643.7 h-5.3M132.2 611.1 h5.3M784.6 611.1 h-5.3M132.2 578.6 h5.3M784.6 578.6 h-5.3M132.2 546.0 h9.2M784.6 546.0 h-9.2M132.2 513.4 h5.3M784.6 513.4 h-5.3M132.2 480.8 h5.3M784.6 480.8 h-5.3M132.2 448.2 h5.3M784.6 448.2 h-5.3M132.2 415.7 h9.2M784.6 415.7 h-9.2M132.2 383.1 h5.3M784.6 383.1 h-5.3M132.2 350.5 h5.3M784.6 350.5 h-5.3M132.2 317.9 h5.3M784.6 317.9 h-5.3M132.2 285.3 h9.2M784.6 285.3 h-9.2M132.2 252.8 h5.3M784.6 252.8 h-5.3M132.2 220.2 h5.3M784.6 220.2 h-5.3M132.2 187.6 h5.3M784.6 187.6 h-5.3M132.2 155.0 h9.2M784.6 155.0 h-9.2M132.2 122.4 h5.3M784.6 122.4 h-5.3M132.2 89.9 h5.3M784.6 89.9 h-5.3M132.2 57.3 h5.3M784.6 57.3 h-5.3"/>
</g>
<rect x="132.2" y="24.7" width="652.4" height="651.6" fill="none" stroke="#231f20" stroke-width="3.1"/>
<clipPath id="cr"><rect x="970.7" y="19.4" width="660.0" height="659.9"/></clipPath>
<g clip-path="url(#cr)" fill="none" stroke="#a6152b" stroke-width="5.0" stroke-linejoin="round" stroke-linecap="square">
<path d="M990.1 78.8 L994.1 79.5 L998.1 80.1 L1002.1 80.7 L1006.1 81.3 L1010.1 81.9 L1014.1 82.5 L1018.1 83.1 L1022.1 83.8 L1026.1 84.4 L1030.1 85.0 L1034.1 85.6 L1038.1 86.2 L1042.1 86.8 L1046.1 87.4 L1050.1 88.0 L1054.1 88.6 L1058.1 89.2 L1062.1 89.8 L1066.1 90.4 L1070.1 91.0 L1074.1 91.6 L1078.1 92.2 L1082.1 92.8 L1086.1 93.4 L1090.1 94.0 L1094.1 94.6 L1098.1 95.2 L1102.1 95.8 L1106.1 96.4 L1110.1 97.0 L1114.1 97.6 L1118.1 98.2 L1122.1 98.8 L1126.1 99.3 L1130.1 99.9 L1134.1 100.5 L1138.1 101.1 L1142.1 101.7 L1146.1 102.3 L1150.1 102.8 L1154.1 103.4 L1158.1 104.0 L1162.1 104.6 L1166.1 105.2 L1170.1 105.7 L1174.1 106.3 L1178.1 106.9 L1182.1 107.5 L1186.1 108.1 L1190.1 108.6 L1194.1 109.2 L1198.1 109.8 L1202.1 110.3 L1206.1 110.9 L1210.1 111.5 L1214.1 112.0 L1218.1 112.6 L1222.1 113.2 L1226.1 113.7 L1230.1 114.3 L1234.1 114.9 L1238.1 115.4 L1242.1 116.0 L1246.1 116.6 L1250.1 117.1 L1254.1 117.7 L1258.1 118.2 L1262.1 118.8 L1266.1 119.3 L1270.1 119.9 L1274.1 120.5 L1278.1 121.0 L1282.1 121.6 L1286.1 122.1 L1290.1 122.7 L1294.1 123.2 L1298.1 123.8 L1302.1 124.3 L1306.1 124.9 L1310.1 125.4 L1314.1 126.0 L1318.1 126.5 L1322.1 127.0 L1326.1 127.6 L1330.1 128.1 L1334.1 128.7 L1338.1 129.2 L1342.1 129.7 L1346.1 130.3 L1350.1 130.8 L1354.1 131.4 L1358.1 131.9 L1362.1 132.4 L1366.1 133.0 L1370.1 133.5 L1374.1 134.0 L1378.1 134.6 L1382.1 135.1 L1386.1 135.6 L1390.1 136.1 L1394.1 136.7 L1398.1 137.2 L1402.1 137.7 L1406.1 138.2 L1410.1 138.8 L1414.1 139.3 L1418.1 139.8 L1422.1 140.3 L1426.1 140.8 L1430.1 141.4 L1434.1 141.9 L1438.1 142.4 L1442.1 142.9 L1446.1 143.4 L1450.1 143.9 L1454.1 144.5 L1458.1 145.0 L1462.1 145.5 L1466.1 146.0 L1470.1 146.5 L1474.1 147.0 L1478.1 147.5 L1482.1 148.0 L1486.1 148.5 L1490.1 149.0 L1494.1 149.5 L1498.1 150.1 L1502.1 150.6 L1506.1 151.1 L1510.1 151.6 L1514.1 152.1 L1518.1 152.6 L1522.1 153.1 L1526.1 153.5 L1530.1 154.0 L1534.1 154.5 L1538.1 155.0 L1542.1 155.5 L1546.1 156.0 L1550.1 156.5 L1554.1 157.0 L1558.1 157.5 L1562.1 158.0 L1566.1 158.5 L1570.1 159.0 L1574.1 159.4 L1578.1 159.9 L1582.1 160.4 L1586.1 160.9 L1590.1 161.4 L1594.1 161.9 L1598.1 162.3 L1602.1 162.8 L1606.1 163.3 L1610.1 163.8 L1614.1 164.3 L1617.7 164.7"/>
<path d="M990.1 199.6 L994.1 202.0 L998.1 204.4 L1002.1 206.7 L1006.1 209.0 L1010.1 211.2 L1014.1 213.4 L1018.1 215.5 L1022.1 217.7 L1026.1 219.8 L1030.1 221.8 L1034.1 223.9 L1038.1 225.9 L1042.1 227.9 L1046.1 229.8 L1050.1 231.7 L1054.1 233.6 L1058.1 235.5 L1062.1 237.4 L1066.1 239.2 L1070.1 241.1 L1074.1 242.9 L1078.1 244.6 L1082.1 246.4 L1086.1 248.2 L1090.1 249.9 L1094.1 251.6 L1098.1 253.4 L1102.1 255.1 L1106.1 256.7 L1110.1 258.4 L1114.1 260.1 L1118.1 261.8 L1122.1 263.4 L1126.1 265.1 L1130.1 266.7 L1134.1 268.3 L1138.1 269.9 L1142.1 271.5 L1146.1 273.2 L1150.1 274.8 L1154.1 276.4 L1158.1 277.9 L1162.1 279.5 L1166.1 281.1 L1170.1 282.7 L1174.1 284.3 L1178.1 285.8 L1182.1 287.4 L1186.1 289.0 L1190.1 290.5 L1194.1 292.1 L1198.1 293.6 L1202.1 295.2 L1206.1 296.7 L1210.1 298.3 L1214.1 299.8 L1218.1 301.4 L1222.1 302.9 L1226.1 304.4 L1230.1 306.0 L1234.1 307.5 L1238.1 309.0 L1242.1 310.6 L1246.1 312.1 L1250.1 313.6 L1254.1 315.1 L1258.1 316.6 L1262.1 318.1 L1266.1 319.7 L1270.1 321.2 L1274.1 322.7 L1278.1 324.2 L1282.1 325.6 L1286.1 327.1 L1290.1 328.6 L1294.1 330.1 L1298.1 331.6 L1302.1 333.0 L1306.1 334.5 L1310.1 336.0 L1314.1 337.4 L1318.1 338.9 L1322.1 340.3 L1326.1 341.7 L1330.1 343.2 L1334.1 344.6 L1338.1 346.0 L1342.1 347.4 L1346.1 348.8 L1350.1 350.2 L1354.1 351.6 L1358.1 353.0 L1362.1 354.4 L1366.1 355.7 L1370.1 357.1 L1374.1 358.4 L1378.1 359.7 L1382.1 361.1 L1386.1 362.4 L1390.1 363.7 L1394.1 365.0 L1398.1 366.3 L1402.1 367.6 L1406.1 368.8 L1410.1 370.1 L1414.1 371.3 L1418.1 372.6 L1422.1 373.8 L1426.1 375.0 L1430.1 376.2 L1434.1 377.4 L1438.1 378.6 L1442.1 379.7 L1446.1 380.9 L1450.1 382.0 L1454.1 383.2 L1458.1 384.3 L1462.1 385.4 L1466.1 386.5 L1470.1 387.6 L1474.1 388.7 L1478.1 389.8 L1482.1 390.8 L1486.1 391.9 L1490.1 392.9 L1494.1 393.9 L1498.1 394.9 L1502.1 395.9 L1506.1 396.9 L1510.1 397.9 L1514.1 398.9 L1518.1 399.9 L1522.1 400.8 L1526.1 401.8 L1530.1 402.7 L1534.1 403.6 L1538.1 404.6 L1542.1 405.5 L1546.1 406.4 L1550.1 407.3 L1554.1 408.2 L1558.1 409.1 L1562.1 410.0 L1566.1 410.9 L1570.1 411.8 L1574.1 412.7 L1578.1 413.6 L1582.1 414.4 L1586.1 415.3 L1590.1 416.2 L1594.1 417.1 L1598.1 418.0 L1602.1 418.9 L1606.1 419.8 L1610.1 420.7 L1614.1 421.6 L1617.7 422.4"/>
<path d="M990.1 325.7 L994.1 329.4 L998.1 333.0 L1002.1 336.6 L1006.1 340.2 L1010.1 343.7 L1014.1 347.2 L1018.1 350.6 L1022.1 354.0 L1026.1 357.4 L1030.1 360.7 L1034.1 364.0 L1038.1 367.2 L1042.1 370.5 L1046.1 373.6 L1050.1 376.8 L1054.1 379.9 L1058.1 383.0 L1062.1 386.0 L1066.1 389.1 L1070.1 392.0 L1074.1 395.0 L1078.1 397.9 L1082.1 400.8 L1086.1 403.7 L1090.1 406.5 L1094.1 409.3 L1098.1 412.1 L1102.1 414.8 L1106.1 417.5 L1110.1 420.2 L1114.1 422.9 L1118.1 425.5 L1122.1 428.1 L1126.1 430.7 L1130.1 433.3 L1134.1 435.8 L1138.1 438.3 L1142.1 440.8 L1146.1 443.2 L1150.1 445.6 L1154.1 448.0 L1158.1 450.4 L1162.1 452.7 L1166.1 455.1 L1170.1 457.4 L1174.1 459.6 L1178.1 461.9 L1182.1 464.1 L1186.1 466.3 L1190.1 468.5 L1194.1 470.6 L1198.1 472.8 L1202.1 474.9 L1206.1 477.0 L1210.1 479.0 L1214.1 481.1 L1218.1 483.1 L1222.1 485.1 L1226.1 487.0 L1230.1 489.0 L1234.1 490.9 L1238.1 492.8 L1242.1 494.7 L1246.1 496.6 L1250.1 498.4 L1254.1 500.2 L1258.1 502.0 L1262.1 503.8 L1266.1 505.6 L1270.1 507.3 L1274.1 509.0 L1278.1 510.7 L1282.1 512.4 L1286.1 514.0 L1290.1 515.6 L1294.1 517.2 L1298.1 518.8 L1302.1 520.4 L1306.1 522.0 L1310.1 523.5 L1314.1 525.0 L1318.1 526.5 L1322.1 527.9 L1326.1 529.4 L1330.1 530.8 L1334.1 532.2 L1338.1 533.6 L1342.1 535.0 L1346.1 536.3 L1350.1 537.7 L1354.1 539.0 L1358.1 540.3 L1362.1 541.5 L1366.1 542.8 L1370.1 544.0 L1374.1 545.2 L1378.1 546.4 L1382.1 547.6 L1386.1 548.8 L1390.1 549.9 L1394.1 551.0 L1398.1 552.1 L1402.1 553.2 L1406.1 554.3 L1410.1 555.4 L1414.1 556.4 L1418.1 557.4 L1422.1 558.4 L1426.1 559.4 L1430.1 560.4 L1434.1 561.4 L1438.1 562.3 L1442.1 563.2 L1446.1 564.1 L1450.1 565.0 L1454.1 565.9 L1458.1 566.8 L1462.1 567.6 L1466.1 568.5 L1470.1 569.3 L1474.1 570.1 L1478.1 570.9 L1482.1 571.7 L1486.1 572.5 L1490.1 573.2 L1494.1 574.0 L1498.1 574.7 L1502.1 575.4 L1506.1 576.2 L1510.1 576.9 L1514.1 577.6 L1518.1 578.2 L1522.1 578.9 L1526.1 579.6 L1530.1 580.3 L1534.1 580.9 L1538.1 581.6 L1542.1 582.2 L1546.1 582.9 L1550.1 583.5 L1554.1 584.1 L1558.1 584.7 L1562.1 585.4 L1566.1 586.0 L1570.1 586.6 L1574.1 587.2 L1578.1 587.8 L1582.1 588.4 L1586.1 589.0 L1590.1 589.6 L1594.1 590.3 L1598.1 590.9 L1602.1 591.5 L1606.1 592.1 L1610.1 592.7 L1614.1 593.4 L1617.7 593.9"/>
<path d="M990.1 421.1 L994.1 426.1 L998.1 431.0 L1002.1 435.7 L1006.1 440.4 L1010.1 445.0 L1014.1 449.6 L1018.1 454.0 L1022.1 458.4 L1026.1 462.6 L1030.1 466.8 L1034.1 471.0 L1038.1 475.0 L1042.1 479.0 L1046.1 482.9 L1050.1 486.7 L1054.1 490.5 L1058.1 494.1 L1062.1 497.7 L1066.1 501.3 L1070.1 504.7 L1074.1 508.1 L1078.1 511.5 L1082.1 514.7 L1086.1 517.9 L1090.1 521.1 L1094.1 524.2 L1098.1 527.2 L1102.1 530.1 L1106.1 533.0 L1110.1 535.8 L1114.1 538.6 L1118.1 541.3 L1122.1 544.0 L1126.1 546.6 L1130.1 549.1 L1134.1 551.6 L1138.1 554.1 L1142.1 556.5 L1146.1 558.8 L1150.1 561.1 L1154.1 563.3 L1158.1 565.5 L1162.1 567.6 L1166.1 569.7 L1170.1 571.8 L1174.1 573.8 L1178.1 575.7 L1182.1 577.6 L1186.1 579.5 L1190.1 581.3 L1194.1 583.1 L1198.1 584.9 L1202.1 586.6 L1206.1 588.2 L1210.1 589.9 L1214.1 591.4 L1218.1 593.0 L1222.1 594.5 L1226.1 596.0 L1230.1 597.4 L1234.1 598.8 L1238.1 600.2 L1242.1 601.6 L1246.1 602.9 L1250.1 604.1 L1254.1 605.4 L1258.1 606.6 L1262.1 607.8 L1266.1 608.9 L1270.1 610.1 L1274.1 611.2 L1278.1 612.3 L1282.1 613.3 L1286.1 614.3 L1290.1 615.3 L1294.1 616.3 L1298.1 617.2 L1302.1 618.2 L1306.1 619.1 L1310.1 619.9 L1314.1 620.8 L1318.1 621.6 L1322.1 622.4 L1326.1 623.2 L1330.1 624.0 L1334.1 624.8 L1338.1 625.5 L1342.1 626.2 L1346.1 626.9 L1350.1 627.6 L1354.1 628.3 L1358.1 628.9 L1362.1 629.6 L1366.1 630.2 L1370.1 630.8 L1374.1 631.4 L1378.1 631.9 L1382.1 632.5 L1386.1 633.0 L1390.1 633.6 L1394.1 634.1 L1398.1 634.6 L1402.1 635.1 L1406.1 635.6 L1410.1 636.0 L1414.1 636.5 L1418.1 636.9 L1422.1 637.4 L1426.1 637.8 L1430.1 638.2 L1434.1 638.6 L1438.1 639.0 L1442.1 639.4 L1446.1 639.8 L1450.1 640.2 L1454.1 640.5 L1458.1 640.9 L1462.1 641.2 L1466.1 641.6 L1470.1 641.9 L1474.1 642.2 L1478.1 642.5 L1482.1 642.8 L1486.1 643.1 L1490.1 643.4 L1494.1 643.7 L1498.1 644.0 L1502.1 644.3 L1506.1 644.5 L1510.1 644.8 L1514.1 645.1 L1518.1 645.3 L1522.1 645.6 L1526.1 645.8 L1530.1 646.0 L1534.1 646.2 L1538.1 646.5 L1542.1 646.7 L1546.1 646.9 L1550.1 647.1 L1554.1 647.3 L1558.1 647.5 L1562.1 647.7 L1566.1 647.8 L1570.1 648.0 L1574.1 648.2 L1578.1 648.3 L1582.1 648.5 L1586.1 648.6 L1590.1 648.8 L1594.1 648.9 L1598.1 649.0 L1602.1 649.1 L1606.1 649.3 L1610.1 649.4 L1614.1 649.5 L1617.7 649.5"/>
</g>
<g stroke="#231f20" stroke-width="3.0" fill="none">
<path d="M983.8 679.3 v-9.9M983.8 19.4 v9.9M1015.5 679.3 v-6.0M1015.5 19.4 v6.0M1047.2 679.3 v-6.0M1047.2 19.4 v6.0M1078.9 679.3 v-6.0M1078.9 19.4 v6.0M1110.6 679.3 v-9.9M1110.6 19.4 v9.9M1142.3 679.3 v-6.0M1142.3 19.4 v6.0M1174.0 679.3 v-6.0M1174.0 19.4 v6.0M1205.7 679.3 v-6.0M1205.7 19.4 v6.0M1237.4 679.3 v-9.9M1237.4 19.4 v9.9M1269.1 679.3 v-6.0M1269.1 19.4 v6.0M1300.8 679.3 v-6.0M1300.8 19.4 v6.0M1332.4 679.3 v-6.0M1332.4 19.4 v6.0M1364.1 679.3 v-9.9M1364.1 19.4 v9.9M1395.8 679.3 v-6.0M1395.8 19.4 v6.0M1427.5 679.3 v-6.0M1427.5 19.4 v6.0M1459.2 679.3 v-6.0M1459.2 19.4 v6.0M1490.9 679.3 v-9.9M1490.9 19.4 v9.9M1522.6 679.3 v-6.0M1522.6 19.4 v6.0M1554.3 679.3 v-6.0M1554.3 19.4 v6.0M1586.0 679.3 v-6.0M1586.0 19.4 v6.0M1617.7 679.3 v-9.9M1617.7 19.4 v9.9M970.7 646.3 h6.0M1630.7 646.3 h-6.0M970.7 613.3 h6.0M1630.7 613.3 h-6.0M970.7 580.3 h6.0M1630.7 580.3 h-6.0M970.7 547.3 h9.9M1630.7 547.3 h-9.9M970.7 514.3 h6.0M1630.7 514.3 h-6.0M970.7 481.3 h6.0M1630.7 481.3 h-6.0M970.7 448.3 h6.0M1630.7 448.3 h-6.0M970.7 415.3 h9.9M1630.7 415.3 h-9.9M970.7 382.3 h6.0M1630.7 382.3 h-6.0M970.7 349.3 h6.0M1630.7 349.3 h-6.0M970.7 316.3 h6.0M1630.7 316.3 h-6.0M970.7 283.3 h9.9M1630.7 283.3 h-9.9M970.7 250.3 h6.0M1630.7 250.3 h-6.0M970.7 217.3 h6.0M1630.7 217.3 h-6.0M970.7 184.3 h6.0M1630.7 184.3 h-6.0M970.7 151.3 h9.9M1630.7 151.3 h-9.9M970.7 118.3 h6.0M1630.7 118.3 h-6.0M970.7 85.3 h6.0M1630.7 85.3 h-6.0M970.7 52.3 h6.0M1630.7 52.3 h-6.0"/>
</g>
<rect x="970.7" y="19.4" width="660.0" height="659.9" fill="none" stroke="#231f20" stroke-width="3.1"/>
<text transform="translate(121.8 687.2) scale(1 1.04)" font-size="43" text-anchor="end">0.0</text>
<text transform="translate(121.8 556.9) scale(1 1.04)" font-size="43" text-anchor="end">0.2</text>
<text transform="translate(121.8 426.6) scale(1 1.04)" font-size="43" text-anchor="end">0.4</text>
<text transform="translate(121.8 296.2) scale(1 1.04)" font-size="43" text-anchor="end">0.6</text>
<text transform="translate(121.8 165.9) scale(1 1.04)" font-size="43" text-anchor="end">0.8</text>
<text transform="translate(121.8 35.6) scale(1 1.04)" font-size="43" text-anchor="end">1.0</text>
<text transform="translate(144.7 721.7) scale(1 1.04)" font-size="43" text-anchor="middle">0.00</text>
<text transform="translate(249.1 721.7) scale(1 1.04)" font-size="43" text-anchor="middle">0.05</text>
<text transform="translate(353.6 721.7) scale(1 1.04)" font-size="43" text-anchor="middle">0.10</text>
<text transform="translate(458.0 721.7) scale(1 1.04)" font-size="43" text-anchor="middle">0.15</text>
<text transform="translate(562.4 721.7) scale(1 1.04)" font-size="43" text-anchor="middle">0.20</text>
<text transform="translate(666.9 721.7) scale(1 1.04)" font-size="43" text-anchor="middle">0.25</text>
<text transform="translate(771.3 721.7) scale(1 1.04)" font-size="43" text-anchor="middle">0.30</text>
<text transform="translate(959.8 690.5) scale(1 1.04)" font-size="43" text-anchor="end">0.0</text>
<text transform="translate(959.8 558.5) scale(1 1.04)" font-size="43" text-anchor="end">0.2</text>
<text transform="translate(959.8 426.5) scale(1 1.04)" font-size="43" text-anchor="end">0.4</text>
<text transform="translate(959.8 294.5) scale(1 1.04)" font-size="43" text-anchor="end">0.6</text>
<text transform="translate(959.8 162.5) scale(1 1.04)" font-size="43" text-anchor="end">0.8</text>
<text transform="translate(959.8 30.5) scale(1 1.04)" font-size="43" text-anchor="end">1.0</text>
<text transform="translate(983.2 722.8) scale(1 1.04)" font-size="43" text-anchor="middle">0.0</text>
<text transform="translate(1110.0 722.8) scale(1 1.04)" font-size="43" text-anchor="middle">0.2</text>
<text transform="translate(1236.8 722.8) scale(1 1.04)" font-size="43" text-anchor="middle">0.4</text>
<text transform="translate(1363.5 722.8) scale(1 1.04)" font-size="43" text-anchor="middle">0.6</text>
<text transform="translate(1490.3 722.8) scale(1 1.04)" font-size="43" text-anchor="middle">0.8</text>
<text transform="translate(1617.1 722.8) scale(1 1.04)" font-size="43" text-anchor="middle">1.0</text>
<text x="225.1" y="785.6" font-size="43" text-anchor="start" textLength="467.4" lengthAdjust="spacingAndGlyphs">d (cost of being disliked)</text>
<text x="949.3" y="787.9" font-size="43" text-anchor="start" textLength="702.7" lengthAdjust="spacingAndGlyphs">r/R ([transmit covert]/[transmit overt])</text>
<text transform="translate(31.5 608.3) rotate(-90) scale(1 1.045)" font-size="43" textLength="513.2" lengthAdjust="spacingAndGlyphs">Threshold q for covert ESS</text>
<text transform="translate(870.0 607.6) rotate(-90) scale(1 1.045)" font-size="43" textLength="513.5" lengthAdjust="spacingAndGlyphs">Threshold q for covert ESS</text>
<text y="115.2" font-size="42"><tspan class="i" x="603.3">s</tspan><tspan x="632.1" dy="3">=</tspan><tspan x="668.3" dy="-3">0.05</tspan></text>
<text y="242.6" font-size="42"><tspan class="i" x="612.9">s</tspan><tspan x="641.7" dy="3">=</tspan><tspan x="677.9" dy="-3">0.1</tspan></text>
<text y="343.5" font-size="42"><tspan class="i" x="612.8">s</tspan><tspan x="641.6" dy="3">=</tspan><tspan x="677.8" dy="-3">0.2</tspan></text>
<text y="479.3" font-size="42"><tspan class="i" x="612.8">s</tspan><tspan x="641.6" dy="3">=</tspan><tspan x="677.8" dy="-3">0.5</tspan></text>
<text y="106.8" font-size="42"><tspan class="i" x="1426.0">w</tspan><tspan x="1454.0" dy="4.1" font-size="32">L</tspan><tspan dy="-1.1" x="1483.0">=</tspan><tspan dy="-3" x="1520.4">1.05</tspan></text>
<text y="341.0" font-size="42"><tspan class="i" x="1383.4">w</tspan><tspan x="1411.4" dy="4.1" font-size="32">L</tspan><tspan dy="-1.1" x="1440.4">=</tspan><tspan dy="-3" x="1477.8">1.2</tspan></text>
<text y="519.1" font-size="42"><tspan class="i" x="1333.8">w</tspan><tspan x="1361.8" dy="4.1" font-size="32">L</tspan><tspan dy="-1.1" x="1390.8">=</tspan><tspan dy="-3" x="1428.2">1.5</tspan></text>
<text y="631.8" font-size="42"><tspan class="i" x="1111.2">w</tspan><tspan x="1139.2" dy="4.1" font-size="32">L</tspan><tspan dy="-1.1" x="1168.2">=</tspan><tspan dy="-3" x="1204.1">2</tspan></text>
</svg></body></html>
